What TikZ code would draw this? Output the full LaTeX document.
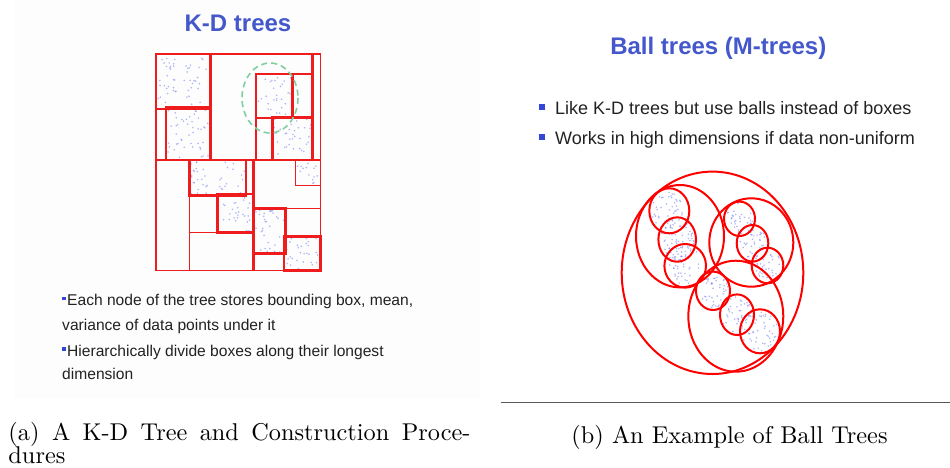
\documentclass[tikz,border=0pt]{standalone}
\usepackage{fontspec}
\newfontfamily\arial{Liberation Sans}
\definecolor{kdred}{HTML}{EE1C1C}
\definecolor{ttlblue}{HTML}{4458CC}
\definecolor{bulblue}{HTML}{3347D6}
\definecolor{dotblue}{HTML}{7C88EE}
\definecolor{dashgreen}{HTML}{7FCF9E}
\definecolor{txtdark}{HTML}{222222}
\newcommand\kddots[5]{%
  \foreach \i in {1,...,#5}{%
    \pgfmathsetmacro\px{#1+rnd*(#3-#1)}%
    \pgfmathsetmacro\py{#2+rnd*(#4-#2)}%
    \fill[dotc] (\px,\py) circle (0.9pt);}}
\newcommand\balldots[5]{%
  \foreach \i in {1,...,#5}{%
    \pgfmathsetmacro\pa{rnd*360}%
    \pgfmathsetmacro\pr{sqrt(rnd)*0.9}%
    \pgfmathsetmacro\px{#1+\pr*#3*cos(\pa)}%
    \pgfmathsetmacro\py{#2+\pr*#4*sin(\pa)}%
    \fill[dotc] (\px,\py) circle (0.9pt);}}
\begin{document}
\begin{tikzpicture}[x=1pt,y=-1pt,
  dotc/.style={dotblue,opacity=0.6},
  thinbox/.style={draw=kdred,line width=1.5pt},
  thickbox/.style={draw=kdred,line width=2.7pt},
  ball/.style={draw=red,line width=2pt},
  title/.style={font=\arial\bfseries\fontsize{24}{28}\selectfont,text=ttlblue,inner sep=0pt},
  lbul/.style={font=\arial\fontsize{15.6}{18}\selectfont,text=txtdark,inner sep=0pt,anchor=base west},
  rbul/.style={font=\arial\fontsize{18}{21}\selectfont,text=txtdark,inner sep=0pt,anchor=base west},
  capt/.style={scale=2.43,inner sep=0pt,anchor=base west,font=\fontsize{10}{12}\selectfont},
  sqbul/.style={fill=bulblue,inner sep=0pt,minimum size=#1}]
\useasboundingbox (0,0) rectangle (950,467);
\fill[gray!1.5] (14,0) rectangle (480,398);
\pgfmathsetseed{11}
% ---------------- K-D tree panel ----------------
\node[title,anchor=base] (kdtitle) at (238,31.5) {K-D trees};
\kddots{158}{56}{209}{107}{50}
\kddots{168}{110}{209}{158}{45}
\kddots{258}{76}{291}{116}{28}
\kddots{274}{119}{311}{158}{32}
\kddots{191}{162}{245}{194}{38}
\kddots{219}{196}{252}{231}{28}
\kddots{255}{210}{284}{252}{32}
\kddots{286}{238}{319}{269}{28}
\kddots{297}{162}{319}{184}{14}
% upper part
\draw[thinbox] (156,54) rectangle (320.7,270.7);
\draw[thickbox] (156,54) rectangle (312.3,160);
\draw[thickbox] (156,54) rectangle (210.7,109);
\draw[thickbox] (166,107) rectangle (210.7,160);
\draw[thinbox] (256,74) rectangle (312.3,160);
\draw[thinbox] (256,117.3) -- (312.3,117.3);
\draw[thickbox] (256,74) rectangle (292.7,118);
\draw[thickbox] (272.7,117.3) rectangle (312.3,160);
% lower part
\draw[thickbox] (156,160) -- (320.7,160);
\draw[thinbox] (189.3,160) -- (189.3,270.7);
\draw[thinbox] (189.3,195.7) -- (217.7,195.7);
\draw[thinbox] (189.3,232.7) -- (253.3,232.7);
\draw[thickbox] (189.3,160) rectangle (246,195.7);
\draw[thickbox] (217.7,194) rectangle (253.3,232.7);
\draw[thickbox] (253.3,160) -- (253.3,270.7);
\draw[thinbox] (253.3,208.3) -- (320.7,208.3);
\draw[thinbox] (295.7,160) rectangle (320.7,185.7);
\draw[thinbox] (253.3,253.3) -- (284,253.3);
\draw[thickbox] (253.3,208.3) rectangle (285.7,253.3);
\draw[thickbox] (284,236.7) rectangle (320.7,270.7);
\draw[dashgreen,line width=1.6pt,dash pattern=on 6pt off 4pt] (270,98) ellipse [x radius=28, y radius=35];
% bullets left
\node[sqbul=3.5pt] (lb1) at (64,298.5) {};
\node[lbul] (lt1) at (67,305.5) {Each node of the tree stores bounding box, mean,};
\node[lbul] (lt2) at (62,330.5) {variance of data points under it};
\node[sqbul=3.5pt] (lb2) at (64,349) {};
\node[lbul] (lt3) at (67,356) {Hierarchically divide boxes along their longest};
\node[lbul] (lt4) at (62,379.5) {dimension};
% caption a
\node[capt] (capa1) at (8,440) {\makebox[190.1pt][s]{(a) A K-D Tree and Construction Proce-}};
\node[capt] (capa2) at (8,463) {dures};
% ---------------- Ball tree panel ----------------
\node[title,anchor=base] (btitle) at (718.3,54.7) {Ball trees (M-trees)};
\node[sqbul=6pt] (rb1) at (541.5,107) {};
\node[rbul] (rt1) at (555,114.5) {Like K-D trees but use balls instead of boxes};
\node[sqbul=6pt] (rb2) at (541.5,137) {};
\node[rbul] (rt2) at (555,144.5) {Works in high dimensions if data non-uniform};
\balldots{669.3}{210.8}{20}{22.5}{50}
\balldots{677.2}{239.5}{18.8}{22.2}{50}
\balldots{685.2}{265.8}{20.8}{21.8}{50}
\balldots{739.5}{218.8}{15.5}{17.2}{35}
\balldots{752.5}{243.3}{15.8}{18.3}{35}
\balldots{767.5}{265.5}{15.8}{17.8}{35}
\balldots{713}{290.8}{17}{19.2}{40}
\balldots{737}{314.7}{17}{20.3}{40}
\balldots{760}{331.3}{20}{22}{45}
\draw[ball] (712.5,272.8) ellipse [x radius=90.8, y radius=101.2];
\draw[ball] (680,236.2) ellipse [x radius=44, y radius=51.2];
\draw[ball] (751.3,242.5) ellipse [x radius=42, y radius=44.2];
\draw[ball] (735.8,316.2) ellipse [x radius=47.5, y radius=55.5];
\draw[ball] (669.3,210.8) ellipse [x radius=20, y radius=22.5];
\draw[ball] (677.2,239.5) ellipse [x radius=18.8, y radius=22.2];
\draw[ball] (685.2,265.8) ellipse [x radius=20.8, y radius=21.8];
\draw[ball] (739.5,218.8) ellipse [x radius=15.5, y radius=17.2];
\draw[ball] (752.5,243.3) ellipse [x radius=15.8, y radius=18.3];
\draw[ball] (767.5,265.5) ellipse [x radius=15.8, y radius=17.8];
\draw[ball] (713,290.8) ellipse [x radius=17, y radius=19.2];
\draw[ball] (737,314.7) ellipse [x radius=17, y radius=20.3];
\draw[ball] (760,331.3) ellipse [x radius=20, y radius=22];
% separator and caption b
\coordinate (sepl) at (500.7,402.7);
\coordinate (sepr) at (950,402.7);
\draw[gray!70!black,line width=1pt] (sepl) -- (sepr);
\node[capt] (capb) at (571,443) {(b) An Example of Ball Trees};
\end{tikzpicture}
\end{document}
